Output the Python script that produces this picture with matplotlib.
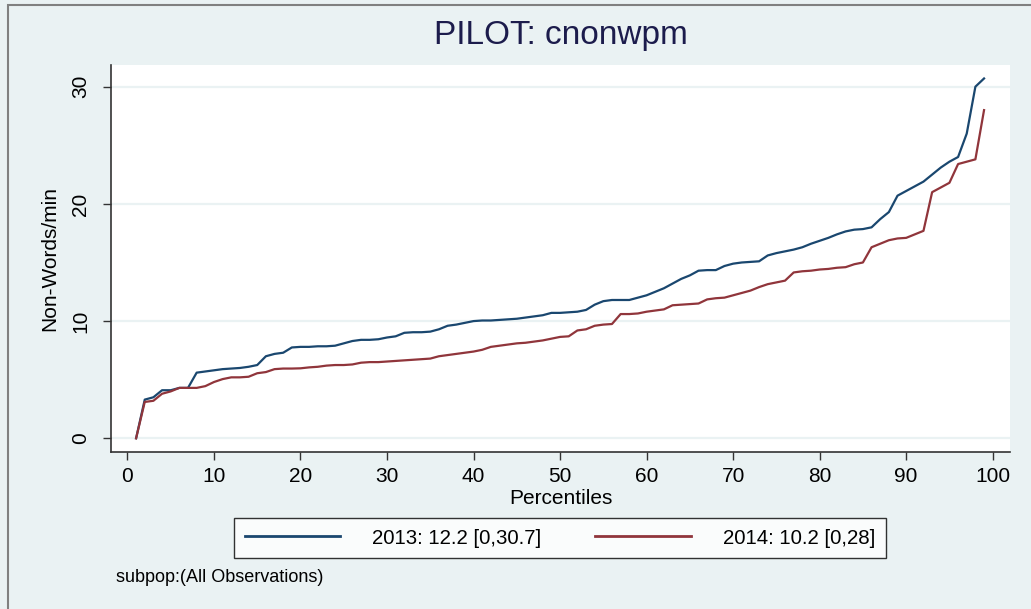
import matplotlib
matplotlib.use("Agg")
import matplotlib.pyplot as plt
from matplotlib.patches import Rectangle

plt.rcParams['font.family'] = ['Liberation Sans', 'DejaVu Sans']

# percentiles 1..99
pct = list(range(1, 100))

# 2013 values
y2013 = [0, 3.3, 3.5, 4.1, 4.1, 4.3, 4.3, 5.6, 5.7, 5.8,
         5.9, 5.95, 6.0, 6.1, 6.25, 7.0, 7.2, 7.3, 7.75, 7.8,
         7.8, 7.85, 7.85, 7.9, 8.1, 8.3, 8.4, 8.4, 8.45, 8.6,
         8.7, 9.0, 9.05, 9.05, 9.1, 9.3, 9.6, 9.7, 9.85, 10.0,
         10.05, 10.05, 10.1, 10.15, 10.2, 10.3, 10.4, 10.5, 10.7, 10.7,
         10.75, 10.8, 10.95, 11.4, 11.7, 11.8, 11.8, 11.8, 12.0, 12.2,
         12.5, 12.8, 13.2, 13.6, 13.9, 14.3, 14.35, 14.35, 14.7, 14.9,
         15.0, 15.05, 15.1, 15.6, 15.8, 15.95, 16.1, 16.3, 16.6, 16.85,
         17.1, 17.4, 17.65, 17.8, 17.85, 18.0, 18.7, 19.3, 20.7, 21.1,
         21.5, 21.9, 22.5, 23.1, 23.6, 24.0, 26.0, 30.0, 30.7]

# 2014 values
y2014 = [0, 3.1, 3.2, 3.8, 4.0, 4.3, 4.3, 4.3, 4.45, 4.8,
         5.05, 5.2, 5.2, 5.25, 5.55, 5.65, 5.9, 5.95, 5.95, 5.97,
         6.05, 6.1, 6.2, 6.25, 6.25, 6.3, 6.45, 6.5, 6.5, 6.55,
         6.6, 6.65, 6.7, 6.75, 6.8, 7.0, 7.1, 7.2, 7.3, 7.4,
         7.55, 7.8, 7.9, 8.0, 8.1, 8.15, 8.25, 8.35, 8.5, 8.65,
         8.7, 9.2, 9.3, 9.6, 9.7, 9.75, 10.6, 10.6, 10.65, 10.8,
         10.9, 11.0, 11.35, 11.4, 11.45, 11.5, 11.85, 11.95, 12.0, 12.2,
         12.4, 12.6, 12.9, 13.15, 13.3, 13.45, 14.15, 14.25, 14.3, 14.4,
         14.45, 14.55, 14.6, 14.85, 15.0, 16.3, 16.6, 16.9, 17.05, 17.1,
         17.4, 17.7, 21.0, 21.4, 21.8, 23.4, 23.6, 23.8, 28.0]

labels = ['2013: 12.2 [0,30.7]', '2014: 10.2 [0,28]']
xticks = list(range(0, 101, 10))
yticks = [0, 10, 20, 30]

bg = '#eaf2f3'
W, H = 1031, 609

fig = plt.figure(figsize=(W / 100, H / 100), dpi=100, facecolor=bg)
# outer frame (only top/left visible in the original crop)
fig.patches.append(Rectangle((8 / W, -0.1), 1.2, (H - 5) / H + 0.1, transform=fig.transFigure,
                             facecolor='none', edgecolor='#808080', linewidth=1.5))

ax = fig.add_axes([111 / W, 1 - 452 / H, (1010 - 111) / W, (452 - 65) / H])
ax.set_facecolor('white')

ax.plot(pct, y2013, color='#1a476f', linewidth=1.6, label=labels[0])
ax.plot(pct, y2014, color='#90353b', linewidth=1.6, label=labels[1])

ax.set_xlim(-1.9, 102)
ax.set_ylim(-1.17, 31.85)
ax.set_xticks(xticks)
ax.set_yticks(yticks)
ax.grid(axis='y', color=bg, linewidth=1.6)
ax.set_axisbelow(True)

for s in ['top', 'right']:
    ax.spines[s].set_visible(False)
for s in ['left', 'bottom']:
    ax.spines[s].set_color('#333333')
    ax.spines[s].set_linewidth(1.2)

ax.tick_params(axis='both', length=6, width=1, color='#333333', labelsize=15)
ax.tick_params(axis='x', pad=5)
ax.tick_params(axis='y', pad=9)
for t in ax.get_yticklabels():
    t.set_rotation(90)
    t.set_va('center')

ax.set_title('PILOT: cnonwpm', fontsize=24, color='#1c1c4c', y=(452 - 44) / 387, va='center')
ax.set_xlabel('Percentiles', fontsize=15, va='center')
ax.xaxis.set_label_coords(0.5, (452 - 498) / 387)
ax.set_ylabel('Non-Words/min', fontsize=15, va='center')
ax.yaxis.set_label_coords((50 - 111) / 899, 0.5)

leg = ax.legend(loc='center', bbox_to_anchor=(560 / W, 1 - 538 / H), bbox_transform=fig.transFigure,
                ncol=2, fontsize=14.7, handlelength=4.7, handletextpad=1.55, columnspacing=2.65,
                borderpad=0.5, frameon=True, fancybox=False)
leg.get_frame().set_edgecolor('black')
leg.get_frame().set_linewidth(1.0)
for line in leg.get_lines():
    line.set_linewidth(2)

fig.text(116 / W, 1 - 577 / H, 'subpop:(All Observations)', fontsize=13, va='center', ha='left')

fig.savefig('out.png', dpi=100, facecolor=bg)
